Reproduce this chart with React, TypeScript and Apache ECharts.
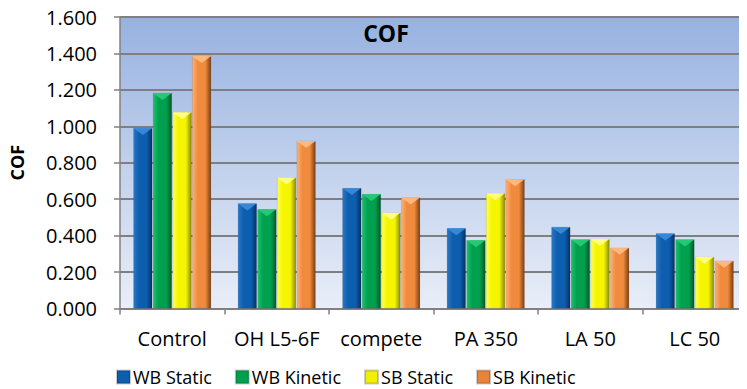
import React, { useEffect, useRef } from "react";
import * as echarts from "echarts";

const categories = ["Control", "OH L5-6F", "compete", "PA 350", "LA 50", "LC 50"];
const wbStatic = [0.991, 0.577, 0.661, 0.44, 0.448, 0.412];
const wbKinetic = [1.183, 0.545, 0.628, 0.374, 0.379, 0.379];
const sbStatic = [1.077, 0.719, 0.525, 0.633, 0.381, 0.284];
const sbKinetic = [1.386, 0.92, 0.609, 0.71, 0.333, 0.262];
const seriesNames = ["WB Static", "WB Kinetic", "SB Static", "SB Kinetic"];

const FONT = "'Open Sans', 'Noto Sans', sans-serif";
const BAR_W = 19;
const BAR_GAP_PX = 0.6;

function hGrad(l: string, m: string, r: string) {
  return new echarts.graphic.LinearGradient(0, 0, 1, 0, [
    { offset: 0, color: l },
    { offset: 0.3, color: m },
    { offset: 0.7, color: m },
    { offset: 1, color: r },
  ]);
}

export default function App() {
  const ref = useRef<HTMLDivElement>(null);
  useEffect(() => {
    if (!ref.current) return;
    const chart = echarts.init(ref.current, null, { renderer: "svg" });
    const colors = [
      hGrad("#2a78c8", "#0d5eae", "#06325f"),
      hGrad("#1cc06c", "#00a04e", "#005a2a"),
      hGrad("#ffff50", "#f5f500", "#8c8c00"),
      hGrad("#ffb070", "#f08a3c", "#7a3f12"),
    ];
    const topColors = ["#3f8ee0", "#2bd07a", "#ffff9a", "#ffbf88"];
    const datas = [wbStatic, wbKinetic, sbStatic, sbKinetic];
    const iconColors = ["#0d5eae", "#00a04e", "#f0f000", "#e8843a"];
    const groupW = 4 * BAR_W + 3 * BAR_GAP_PX;

    const bevelSeries = datas.map((d, si) => ({
      type: "custom",
      name: "bevel" + si,
      silent: true,
      z: 5,
      data: d.map((v, ci) => [ci, v]),
      renderItem: (params: any, api: any) => {
        const p = api.coord([api.value(0), api.value(1)]);
        const cx = p[0] - groupW / 2 + BAR_W / 2 + si * (BAR_W + BAR_GAP_PX);
        const top = p[1];
        const hw = BAR_W / 2;
        return {
          type: "polygon",
          shape: {
            points: [
              [cx - hw, top],
              [cx + hw, top],
              [cx, top + 7],
            ],
          },
          style: { fill: topColors[si], opacity: 0.85 },
        };
      },
    }));

    chart.setOption({
      animation: false,
      backgroundColor: "#ffffff",
      textStyle: { fontFamily: FONT },
      grid: {
        left: 120,
        top: 17,
        width: 632,
        height: 291.5,
        show: true,
        borderWidth: 0,
        backgroundColor: new echarts.graphic.LinearGradient(0, 0, 0, 1, [
          { offset: 0, color: "#97b2e0" },
          { offset: 1, color: "#e9eef8" },
        ]),
      },
      graphic: [
        {
          type: "text",
          x: 386,
          y: 33,
          style: {
            text: "COF",
            fontSize: 23,
            fontWeight: "bold",
            fontFamily: FONT,
            fill: "#000",
            textAlign: "center",
            textVerticalAlign: "middle",
          },
        },
      ],
      legend: {
        top: 368,
        left: 116,
        padding: 0,
        itemWidth: 13,
        itemHeight: 13,
        itemGap: 23,
        icon: "rect",
        textStyle: {
          fontSize: 18,
          lineHeight: 18,
          color: "#000",
          fontFamily: FONT,
          padding: [0, 0, 0, -2],
        },
        data: seriesNames.map((n, i) => ({ name: n, itemStyle: { color: iconColors[i] } })),
      },
      xAxis: {
        type: "category",
        data: categories,
        axisLine: { lineStyle: { color: "#808080", width: 1.5 } },
        axisTick: { show: true, length: 6, lineStyle: { color: "#808080", width: 1.5 } },
        axisLabel: { interval: 0, fontSize: 20, color: "#000", margin: 20, fontFamily: FONT },
      },
      yAxis: {
        type: "value",
        min: 0,
        max: 1.6,
        interval: 0.2,
        name: "COF",
        nameLocation: "middle",
        nameRotate: 90,
        nameGap: 94,
        nameTextStyle: { fontSize: 18, fontWeight: "bold", color: "#000", fontFamily: FONT },
        axisLine: { show: true, lineStyle: { color: "#808080", width: 1.5 } },
        axisTick: { show: true, length: 6, lineStyle: { color: "#808080", width: 1.5 } },
        axisLabel: {
          fontSize: 20,
          color: "#000",
          margin: 23,
          fontFamily: FONT,
          formatter: (v: number) => v.toFixed(3),
        },
        splitLine: { lineStyle: { color: "#7f7f7f", width: 2 } },
      },
      series: [
        ...seriesNames.map((n, i) => ({
          name: n,
          type: "bar",
          data: datas[i],
          barWidth: BAR_W,
          barGap: ((BAR_GAP_PX / BAR_W) * 100).toFixed(2) + "%",
          itemStyle: { color: colors[i], borderColor: "rgba(0,0,0,0.2)", borderWidth: 0.5 },
        })),
        ...bevelSeries,
      ],
    });
    return () => chart.dispose();
  }, []);
  return <div ref={ref} style={{ width: 747, height: 389, marginLeft: -8, marginTop: -8 }} />;
}
